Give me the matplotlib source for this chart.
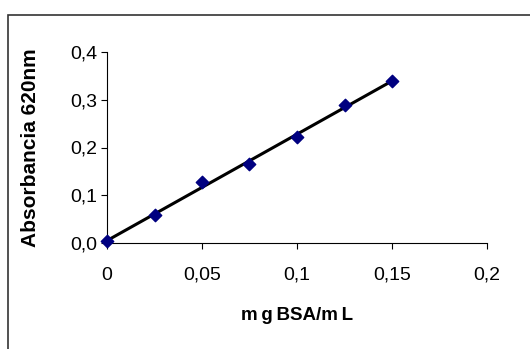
import numpy as np
import matplotlib.pyplot as plt
from matplotlib.patches import Rectangle
from matplotlib.ticker import FuncFormatter

# calibration data (BSA standard curve)
conc = [0.0, 0.025, 0.05, 0.075, 0.1, 0.125, 0.15]
absorb = [0.004, 0.059, 0.127, 0.166, 0.221, 0.288, 0.340]
x_ticks = [0, 0.05, 0.1, 0.15, 0.2]
x_tick_labels = ['0', '0,05', '0,1', '0,15', '0,2']
y_ticks = [0.0, 0.1, 0.2, 0.3, 0.4]

plt.rcParams['font.family'] = ['Liberation Sans', 'DejaVu Sans']

fig = plt.figure(figsize=(5.3, 3.49), dpi=100)
# outer chart frame (runs off the right/bottom of the picture)
fig.patches.append(Rectangle((8 / 530, -0.1), 1.0, 1 - 15 / 349 + 0.1,
                             transform=fig.transFigure, fill=False,
                             edgecolor='#333333', linewidth=1.2))

ax = fig.add_axes([107 / 530, 1 - 243 / 349, 380 / 530, 191 / 349])

# linear trendline
slope, intercept = np.polyfit(conc, absorb, 1)
xs = np.array([conc[0], conc[-1]])
ax.plot(xs, slope * xs + intercept, color='black', linewidth=2.2, zorder=2)
ax.scatter(conc, absorb, marker='D', s=40, color='#000080', zorder=3,
           clip_on=False)

ax.set_xlim(0, 0.2)
ax.set_ylim(0, 0.4)
ax.set_xticks(x_ticks)
ax.set_xticklabels(x_tick_labels)
ax.set_yticks(y_ticks)
ax.yaxis.set_major_formatter(FuncFormatter(lambda v, p: f'{v:.1f}'.replace('.', ',')))

for s in ['top', 'right']:
    ax.spines[s].set_visible(False)
for s in ['left', 'bottom']:
    ax.spines[s].set_linewidth(0.8)
ax.tick_params(direction='out', length=4, width=0.8, labelsize=14)
ax.tick_params(axis='x', pad=13)
ax.tick_params(axis='y', pad=3)

ax.set_xlabel('m g BSA/m L'.replace(' ', '\u2009'), fontsize=13.5,
              fontweight='bold', labelpad=17)
ax.set_ylabel('Absorbancia 620nm', fontsize=15, fontweight='bold',
              labelpad=22)

fig.savefig('out.png', dpi=100)
